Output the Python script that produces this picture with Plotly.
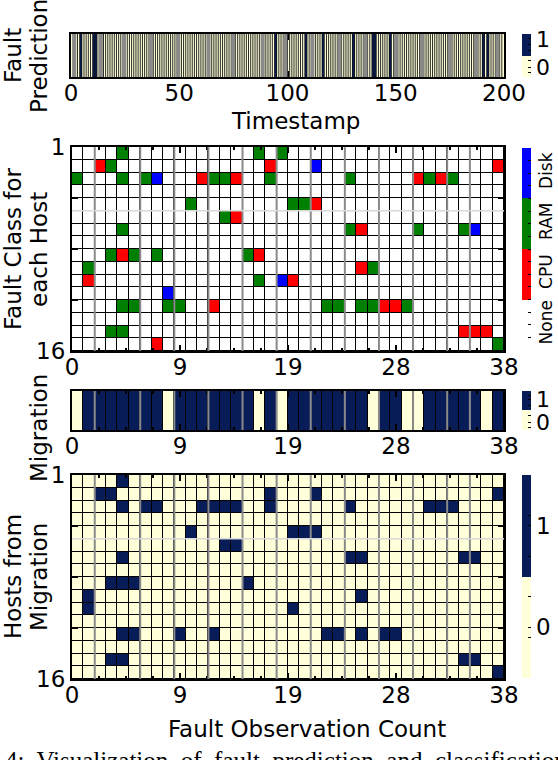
import plotly.graph_objects as go

# figure size in px, everything below is placed in pixel terms
W, H = 558, 760
FONT = "DejaVu Sans"
NAVY = "#081d58"
CREAM = "#ffffd9"

# ---- data ----
n_timestamps = 200
fault_pred_ones = [4, 10, 11, 94, 108, 116, 130, 139, 140, 147, 190, 192]  # timestamps predicted as fault

n_obs = 38      # fault observation count
n_hosts = 16
class_names = ["None", "CPU", "RAM", "Disk"]
# (host, observation) cells per fault class
cpu_cells = [(2, 2), (2, 17), (2, 37), (3, 11), (3, 14), (3, 30), (3, 32), (5, 21), (6, 14), (7, 25),
             (9, 4), (9, 16), (10, 25), (11, 1), (11, 19), (13, 12), (13, 27), (13, 28), (15, 34),
             (15, 35), (15, 36), (16, 7)]
ram_cells = [(1, 4), (1, 16), (1, 18), (2, 3), (3, 0), (3, 4), (3, 6), (3, 12), (3, 13), (3, 17),
             (3, 24), (3, 31), (3, 33), (5, 10), (5, 19), (5, 20), (6, 13), (7, 4), (7, 24), (7, 30),
             (7, 34), (9, 3), (9, 5), (9, 7), (9, 15), (10, 1), (10, 26), (11, 16), (13, 4), (13, 5),
             (13, 8), (13, 9), (13, 22), (13, 23), (13, 25), (13, 26), (13, 29), (15, 3), (15, 4),
             (16, 37)]
disk_cells = [(2, 21), (3, 7), (7, 35), (11, 18), (12, 8)]

no_migration_obs = [0, 8, 16, 18, 26, 29, 30, 36]   # observations with no migration

# observations in which each host (1..16) was migrated from
migrated_obs = [
    [4],
    [2, 3, 17, 21, 37],
    [4, 6, 7, 11, 12, 13, 14, 17, 24, 31, 32, 33],
    [],
    [10, 19, 20, 21],
    [13, 14],
    [4, 24, 25, 34, 35],
    [],
    [3, 4, 5, 15],
    [1, 25],
    [1, 19],
    [],
    [4, 5, 9, 12, 22, 23, 25, 27, 28],
    [],
    [3, 4, 34, 35],
    [37],
]

# ---- build matrices ----
pred = [1 if t in fault_pred_ones else 0 for t in range(n_timestamps)]

fault = [[0] * n_obs for _ in range(n_hosts)]
for code, cells in [(1, cpu_cells), (2, ram_cells), (3, disk_cells)]:
    for h, o in cells:
        fault[h - 1][o] = code

migration = [0 if o in no_migration_obs else 1 for o in range(n_obs)]

hosts = [[1 if o in migrated_obs[h] else 0 for o in range(n_obs)] for h in range(n_hosts)]


def px_x(p):
    return p / W


def px_y(p):
    return 1 - p / H


bin_scale = [[0, CREAM], [0.5, CREAM], [0.5, NAVY], [1, NAVY]]
class_scale = [[0, "white"], [0.25, "white"], [0.25, "#ff0000"], [0.5, "#ff0000"],
               [0.5, "#008000"], [0.75, "#008000"], [0.75, "#0000ff"], [1, "#0000ff"]]


def cbar(top, bottom, vals, texts, size=23, angle=None):
    d = dict(x=px_x(522), xanchor="left", xpad=0, ypad=0,
             y=px_y((top + bottom) / 2), yanchor="middle",
             len=(bottom - top) / H, lenmode="fraction",
             thickness=9, thicknessmode="pixels", outlinewidth=0,
             tickmode="array", tickvals=vals, ticktext=texts,
             ticks="inside", ticklen=3, tickwidth=1.2, tickcolor="black",
             tickfont=dict(family=FONT, size=size, color="black"))
    if angle is not None:
        d["tickangle"] = angle
    return d


# host rows fill the 1..16 axis range
row_h = (n_hosts - 1) / n_hosts
y0_rows = 1 + row_h / 2

fig = go.Figure()

fig.add_trace(go.Heatmap(
    z=[pred], x0=0.5, dx=1, y0=0, dy=1,
    colorscale=bin_scale, zmin=-0.5, zmax=1.5, xaxis="x", yaxis="y", hoverinfo="skip",
    colorbar=cbar(34, 77, [-0.3, -0.06, 0.25, 0.75, 1.0, 1.27], ["", "0", "", "", "", "1"], size=22)))

fig.add_trace(go.Heatmap(
    z=fault, x0=0.5, dx=1, y0=y0_rows, dy=row_h, xgap=1, ygap=1,
    colorscale=class_scale, zmin=-0.5, zmax=3.5, xaxis="x2", yaxis="y2", hoverinfo="skip",
    colorbar=cbar(148, 350, [-0.5 + 0.25 * k for k in range(17)],
                  [class_names[int(-0.5 + 0.25 * k)] if (k % 4 == 2) else "" for k in range(17)],
                  size=17, angle=-90)))

fig.add_trace(go.Heatmap(
    z=[migration], x0=0.5, dx=1, y0=0, dy=1, xgap=1,
    colorscale=bin_scale, zmin=-0.5, zmax=1.5, xaxis="x3", yaxis="y3", hoverinfo="skip",
    colorbar=cbar(391, 430, [-0.35, -0.1, 0.25, 0.75, 1.06, 1.25], ["", "0", "", "", "1", ""], size=22)))

fig.add_trace(go.Heatmap(
    z=hosts, x0=0.5, dx=1, y0=y0_rows, dy=row_h, xgap=1, ygap=1,
    colorscale=bin_scale, zmin=-0.5, zmax=1.5, xaxis="x4", yaxis="y4", hoverinfo="skip",
    colorbar=cbar(475, 678, [-0.1, 0, 0.3, 0.7, 1, 1.1], ["", "0", "", "", "1", ""])))

frame = dict(showline=True, linewidth=2, linecolor="black", mirror="ticks",
             showgrid=False, zeroline=False, ticks="inside", ticklen=6,
             tickwidth=1.5, tickcolor="black", tickfont=dict(family=FONT, size=23),
             automargin=False)

obs_axis = dict(frame, range=[0, n_obs], tickmode="array", ticklabelstandoff=-6,
                tickvals=[0, 9.5, 19, 28.5, 38], ticktext=["0", "9", "19", "28", "38"],
                minor=dict(ticks="inside", ticklen=3, tickcolor="black", dtick=2.375, tick0=0,
                           showgrid=False))
host_axis = dict(frame, range=[n_hosts, 1], tickmode="array",
                 tickvals=[1, 4.75, 8.5, 12.25, 16], ticktext=["1", "", "", "", "16"])
strip_y = dict(frame, range=[-0.5, 0.5], showticklabels=False, ticks="")

fig.update_layout(
    width=W, height=H, margin=dict(l=0, r=0, t=0, b=0, autoexpand=False),
    paper_bgcolor="white", plot_bgcolor="black",
    font=dict(family=FONT, size=23, color="black"), showlegend=False,
    xaxis=dict(frame, domain=[px_x(71), px_x(504)], range=[0, n_timestamps],
               tickmode="linear", tick0=0, dtick=50, anchor="y", ticklabelstandoff=-6),
    yaxis=dict(strip_y, domain=[px_y(77), px_y(34)], anchor="x"),
    xaxis2=dict(obs_axis, domain=[px_x(72), px_x(504)], anchor="y2"),
    yaxis2=dict(host_axis, domain=[px_y(351), px_y(147)], anchor="x2"),
    xaxis3=dict(obs_axis, domain=[px_x(72), px_x(504)], anchor="y3"),
    yaxis3=dict(strip_y, domain=[px_y(430), px_y(391)], anchor="x3"),
    xaxis4=dict(obs_axis, domain=[px_x(72), px_x(504)], anchor="y4"),
    yaxis4=dict(host_axis, domain=[px_y(679), px_y(475)], anchor="x4"),
)

# thin cell borders of the timestamp strip
for t in range(1, n_timestamps):
    fig.add_shape(type="line", xref="x", yref="y domain", x0=t, x1=t, y0=0, y1=1,
                  line=dict(color="#111111", width=0.9))

# gray grid lines over the cells
ts_grid = [1.5, 13.8, 24.5, 37, 49.5, 63.5, 75, 88.5, 99, 111.5, 124, 136, 150, 162, 175, 187, 197]
obs_grid = [2, 6, 9, 12, 15, 18, 21, 24, 27, 30, 33, 35]
for g in ts_grid:
    fig.add_shape(type="line", xref="x", yref="y domain", x0=g, x1=g, y0=0, y1=1,
                  line=dict(color="#8a8a8a", width=4))
for ax in ["x2", "x3", "x4"]:
    for g in obs_grid:
        fig.add_shape(type="line", xref=ax, yref=ax.replace("x", "y") + " domain",
                      x0=g, x1=g, y0=0, y1=1, line=dict(color="#8a8a8a", width=2))
for ax in ["x2", "x4"]:
    yb = 1 + 5 * row_h
    fig.add_shape(type="line", xref=ax + " domain", yref=ax.replace("x", "y"),
                  x0=0, x1=1, y0=yb, y1=yb, line=dict(color="#d8d8d8", width=1.5))


def label(text, x, y, angle=0, size=23, fam=FONT, xanchor="center", yanchor="middle"):
    fig.add_annotation(text=text, x=px_x(x), y=px_y(y), xref="paper", yref="paper",
                       showarrow=False, textangle=angle, xanchor=xanchor, yanchor=yanchor,
                       font=dict(family=fam, size=size, color="black"))


label("Fault", 13, 56, -90)
label("Prediction", 39, 56, -90)
label("Timestamp", 295, 121)
label("Fault Class for", 13, 249, -90)
label("each Host", 39, 249, -90)
label("Migration", 39, 428, -90)
label("Hosts from", 13, 577, -90)
label("Migration", 39, 577, -90)
label("Fault Observation Count", 307, 729)
label("4:  Visualization  of  fault  prediction  and  classification", 3, 745,
      size=25, fam="Liberation Serif", xanchor="left", yanchor="top")

# the page body has a default margin; drop it so the figure sits at the window corner
fig.write_html("out.html", config={"displayModeBar": False},
               post_script="document.body.style.margin='0px';")
